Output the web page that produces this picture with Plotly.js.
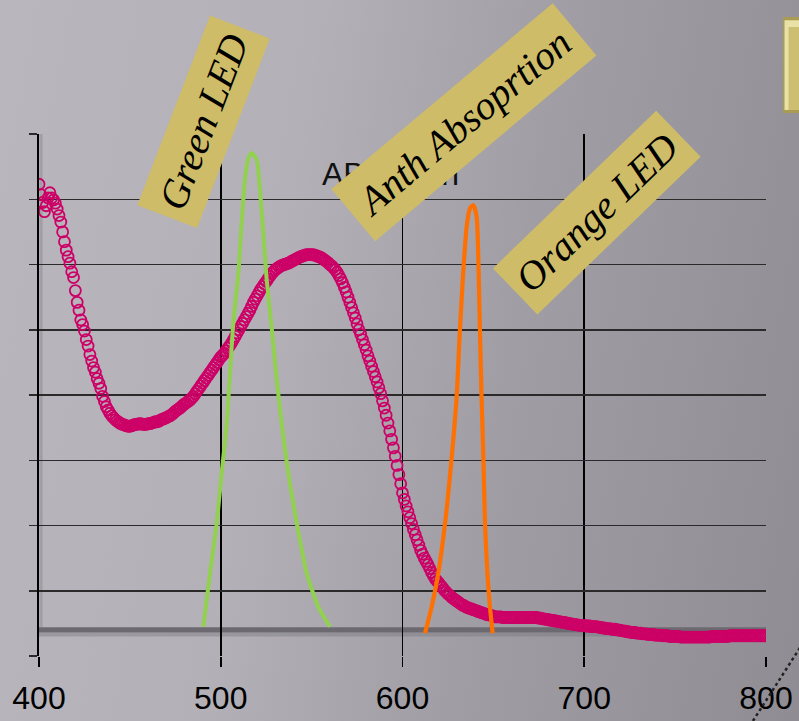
<!DOCTYPE html>
<html>
<head>
<meta charset="utf-8">
<script src="https://cdn.plot.ly/plotly-3.0.1.min.js"></script>
<style>
  html, body { margin: 0; padding: 0; }
  #chart {
    width: 799px; height: 721px;
    background: linear-gradient(100deg, #b9b6bd 0%, #b3b0b7 35%, #a09ea4 62%, #8f8d93 100%);
  }
</style>
</head>
<body>
<div id="chart"></div>
<script>
// ---------- DATA ----------
const absWavelength = [
400,401,402,403,404,405,406,407,408,409,410,411,412,413,414,415,416,417,418,419,
420,421,422,423,424,425,426,427,428,429,430,431,432,433,434,435,436,437,438,439,
440,441,442,443,444,445,446,447,448,449,450,451,452,453,454,455,456,457,458,459,
460,461,462,463,464,465,466,467,468,469,470,471,472,473,474,475,476,477,478,479,
480,481,482,483,484,485,486,487,488,489,490,491,492,493,494,495,496,497,498,499,
500,501,502,503,504,505,506,507,508,509,510,511,512,513,514,515,516,517,518,519,
520,521,522,523,524,525,526,527,528,529,530,531,532,533,534,535,536,537,538,539,
540,541,542,543,544,545,546,547,548,549,550,551,552,553,554,555,556,557,558,559,
560,561,562,563,564,565,566,567,568,569,570,571,572,573,574,575,576,577,578,579,
580,581,582,583,584,585,586,587,588,589,590,591,592,593,594,595,596,597,598,599,
600,601,602,603,604,605,606,607,608,609,610,611,612,613,614,615,616,617,618,619,
620,621,622,623,624,625,626,627,628,629,630,631,632,633,634,635,636,637,638,639,
640,641,642,643,644,645,646,647,648,649,650,651,652,653,654,655,656,657,658,659,
660,661,662,663,664,665,666,667,668,669,670,671,672,673,674,675,676,677,678,679,
680,681,682,683,684,685,686,687,688,689,690,691,692,693,694,695,696,697,698,699,
700,701,702,703,704,705,706,707,708,709,710,711,712,713,714,715,716,717,718,719,
720,721,722,723,724,725,726,727,728,729,730,731,732,733,734,735,736,737,738,739,
740,741,742,743,744,745,746,747,748,749,750,751,752,753,754,755,756,757,758,759,
760,761,762,763,764,765,766,767,768,769,770,771,772,773,774,775,776,777,778,779,
780,781,782,783,784,785,786,787,788,789,790,791,792,793,794,795,796,797,798,799,
800];
const absorbance = [
7.23,7.07,6.95,6.81,6.90,7.02,7.10,7.02,6.99,6.94,6.85,6.75,6.65,6.50,6.35,6.22,6.12,6.02,5.89,5.80,
5.60,5.42,5.30,5.15,5.08,4.98,4.85,4.75,4.62,4.52,4.42,4.35,4.25,4.18,4.10,3.98,3.90,3.82,3.77,3.72,
3.68,3.65,3.62,3.60,3.58,3.56,3.55,3.54,3.53,3.52,3.52,3.53,3.54,3.55,3.55,3.56,3.56,3.55,3.55,3.55,
3.56,3.56,3.57,3.58,3.59,3.59,3.60,3.62,3.63,3.64,3.65,3.67,3.68,3.70,3.72,3.75,3.77,3.79,3.81,3.84,
3.86,3.88,3.90,3.92,3.95,3.98,4.02,4.06,4.10,4.14,4.18,4.22,4.26,4.30,4.34,4.38,4.42,4.46,4.50,4.54,
4.58,4.61,4.64,4.68,4.72,4.76,4.80,4.85,4.90,4.95,5.00,5.05,5.10,5.15,5.20,5.25,5.30,5.36,5.42,5.47,
5.52,5.57,5.62,5.66,5.70,5.74,5.78,5.82,5.86,5.89,5.92,5.94,5.96,5.98,5.99,6.00,6.01,6.02,6.03,6.05,
6.06,6.08,6.09,6.11,6.12,6.13,6.14,6.15,6.15,6.15,6.15,6.15,6.14,6.13,6.12,6.11,6.09,6.07,6.05,6.03,
6.00,5.98,5.95,5.92,5.88,5.83,5.78,5.72,5.65,5.58,5.50,5.42,5.34,5.26,5.18,5.09,5.00,4.93,4.85,4.77,
4.69,4.60,4.52,4.44,4.36,4.28,4.20,4.11,4.02,3.91,3.80,3.69,3.57,3.45,3.32,3.19,3.06,2.92,2.78,2.64,
2.50,2.40,2.30,2.21,2.12,2.03,1.94,1.86,1.78,1.70,1.62,1.56,1.50,1.45,1.40,1.34,1.28,1.23,1.18,1.15,
1.12,1.08,1.05,1.01,0.98,0.95,0.93,0.90,0.88,0.86,0.84,0.82,0.80,0.78,0.77,0.75,0.74,0.73,0.72,0.71,
0.70,0.69,0.68,0.67,0.66,0.65,0.64,0.63,0.63,0.62,0.61,0.60,0.60,0.60,0.60,0.59,0.59,0.59,0.59,0.59,
0.59,0.59,0.59,0.59,0.59,0.59,0.59,0.59,0.59,0.59,0.59,0.59,0.59,0.59,0.59,0.58,0.58,0.57,0.57,0.56,
0.56,0.55,0.55,0.54,0.54,0.53,0.53,0.52,0.52,0.51,0.51,0.50,0.50,0.49,0.49,0.48,0.48,0.47,0.47,0.47,
0.47,0.46,0.46,0.46,0.45,0.45,0.45,0.45,0.44,0.44,0.43,0.43,0.42,0.42,0.42,0.41,0.41,0.41,0.40,0.40,
0.39,0.39,0.38,0.38,0.37,0.37,0.36,0.36,0.36,0.35,0.35,0.35,0.34,0.34,0.34,0.33,0.33,0.33,0.33,0.32,
0.32,0.32,0.32,0.31,0.31,0.31,0.31,0.30,0.30,0.30,0.30,0.30,0.30,0.29,0.29,0.29,0.29,0.29,0.29,0.29,
0.29,0.29,0.29,0.29,0.29,0.29,0.29,0.29,0.29,0.29,0.30,0.30,0.30,0.30,0.30,0.30,0.30,0.30,0.30,0.30,
0.31,0.31,0.31,0.31,0.31,0.31,0.31,0.31,0.31,0.31,0.31,0.31,0.31,0.31,0.31,0.31,0.31,0.31,0.31,0.31,
0.31];

const greenWavelength = [490.4,494.1,497.8,500.5,503.3,505.1,506.9,509.7,511.5,513.3,515.2,517.0,
                         519.8,521.6,523.4,525.3,528.0,530.8,533.5,537.2,541.8,547.3,553.7,560.1];
const greenLED = [0.45,1.27,2.04,2.80,3.57,4.34,5.10,5.87,6.64,7.29,7.63,7.71,
                  7.60,7.14,6.48,5.76,5.04,4.23,3.57,2.80,2.04,1.27,0.75,0.45];

const orangeWavelength = [612.4,616.1,619.7,623.4,627.1,629.8,631.6,633.4,635.3,637.1,639.0,
                          640.8,641.7,642.6,643.5,644.5,645.4,646.7,648.1,649.6];
const orangeLED = [0.35,0.76,1.27,2.03,3.05,3.97,5.00,5.87,6.58,6.86,6.91,
                   6.73,6.12,5.00,3.97,3.05,2.03,1.27,0.76,0.35];

const xTickValues = [400, 500, 600, 700, 800];
const xTickLabels = ['400', '500', '600', '700', '800'];
const yGridValues = [0, 1, 2, 3, 4, 5, 6, 7, 8];

const chartTitle = 'ABS Anth';
const labelGreen = 'Green LED';
const labelAnth = 'Anth Absoprtion';
const labelOrange = 'Orange LED';

// ---------- TRACES ----------
const traces = [
  {
    x: absWavelength, y: absorbance, type: 'scatter', mode: 'markers',
    marker: { symbol: 'circle-open', size: 11, color: '#cc0066', line: { width: 1.8, color: '#cc0066' } },
    hoverinfo: 'skip', showlegend: false
  },
  {
    x: greenWavelength, y: greenLED, type: 'scatter', mode: 'lines',
    line: { color: '#92d050', width: 4, shape: 'spline', smoothing: 0.6 },
    hoverinfo: 'skip', showlegend: false
  },
  {
    x: orangeWavelength, y: orangeLED, type: 'scatter', mode: 'lines',
    line: { color: '#ff7000', width: 4.2, shape: 'spline', smoothing: 0.6 },
    hoverinfo: 'skip', showlegend: false
  }
];

const labelFont = { family: 'Liberation Serif, Times New Roman, serif', size: 40, color: '#000', style: 'italic' };
const labelBg = '#cebc68';

const layout = {
  width: 799, height: 721,
  margin: { l: 39, r: 33, t: 134, b: 65, pad: 0 },
  paper_bgcolor: 'rgba(0,0,0,0)',
  plot_bgcolor: 'rgba(0,0,0,0)',
  showlegend: false,
  xaxis: {
    range: [400, 800], tickmode: 'array', tickvals: xTickValues, ticktext: xTickLabels,
    showgrid: true, gridcolor: '#000', gridwidth: 1.6,
    ticks: 'outside', ticklen: 10, tickwidth: 1.6, tickcolor: '#000',
    tickfont: { family: 'Liberation Sans, Arial, sans-serif', size: 32, color: '#000' },
    ticklabelstandoff: 4,
    showline: false, zeroline: false, fixedrange: true
  },
  yaxis: {
    range: [0, 8], tickmode: 'array', tickvals: yGridValues,
    showticklabels: false,
    showgrid: true, gridcolor: '#2a2a2a', gridwidth: 1.5,
    ticks: 'outside', ticklen: 8, tickwidth: 1.5, tickcolor: '#2a2a2a',
    showline: true, linecolor: '#000', linewidth: 1.6,
    zeroline: false, fixedrange: true
  },
  shapes: [
    // 3D floor band
    { type: 'rect', xref: 'x', yref: 'y', x0: 400, x1: 800, y0: 0.36, y1: 0.44,
      fillcolor: '#6c6a70', line: { width: 0 }, layer: 'below' },
    { type: 'rect', xref: 'x', yref: 'y', x0: 400, x1: 800, y0: 0.30, y1: 0.36,
      fillcolor: 'rgba(110,108,114,0.35)', line: { width: 0 }, layer: 'below' },
    // left wall shading
    { type: 'rect', xref: 'x', yref: 'y', x0: 400.3, x1: 402, y0: 0.44, y1: 8,
      fillcolor: 'rgba(140,138,144,0.5)', line: { width: 0 }, layer: 'below' },
    // partial gold box at top right
    { type: 'rect', xref: 'paper', yref: 'paper', x0: 1.0234, x1: 1.06, y0: 1.040, y1: 1.224,
      fillcolor: '#a99c52', line: { width: 0 } },
    { type: 'rect', xref: 'paper', yref: 'paper', x0: 1.0255, x1: 1.06, y0: 1.046, y1: 1.218,
      fillcolor: '#e9e1a8', line: { width: 0 } },
    { type: 'rect', xref: 'paper', yref: 'paper', x0: 1.031, x1: 1.06, y0: 1.046, y1: 1.205,
      fillcolor: '#cdbf72', line: { width: 0 } },
    // dotted line at bottom right
    { type: 'line', xref: 'paper', yref: 'paper', x0: 0.982, y0: -0.1245, x1: 1.0536, y1: 0.0307,
      line: { color: '#222', width: 2.5, dash: 'dot' } }
  ],
  annotations: [
    { text: chartTitle, xref: 'paper', yref: 'paper', x: 0.484, y: 0.923,
      xanchor: 'center', yanchor: 'middle', showarrow: false,
      font: { family: 'Liberation Sans, Arial, sans-serif', size: 32, color: '#111' } },
    { text: labelGreen, xref: 'paper', yref: 'paper', x: 0.227, y: 1.023,
      xanchor: 'center', yanchor: 'middle', showarrow: false, textangle: -69,
      bgcolor: labelBg, borderpad: 9, font: labelFont },
    { text: labelAnth, xref: 'paper', yref: 'paper', x: 0.584, y: 1.022,
      xanchor: 'center', yanchor: 'middle', showarrow: false, textangle: -40,
      bgcolor: labelBg, borderpad: 11, font: labelFont },
    { text: labelOrange, xref: 'paper', yref: 'paper', x: 0.7675, y: 0.849,
      xanchor: 'center', yanchor: 'middle', showarrow: false, textangle: -44,
      bgcolor: labelBg, borderpad: 9, font: labelFont }
  ]
};

Plotly.newPlot('chart', traces, layout, { staticPlot: true, displayModeBar: false });
</script>
</body>
</html>
